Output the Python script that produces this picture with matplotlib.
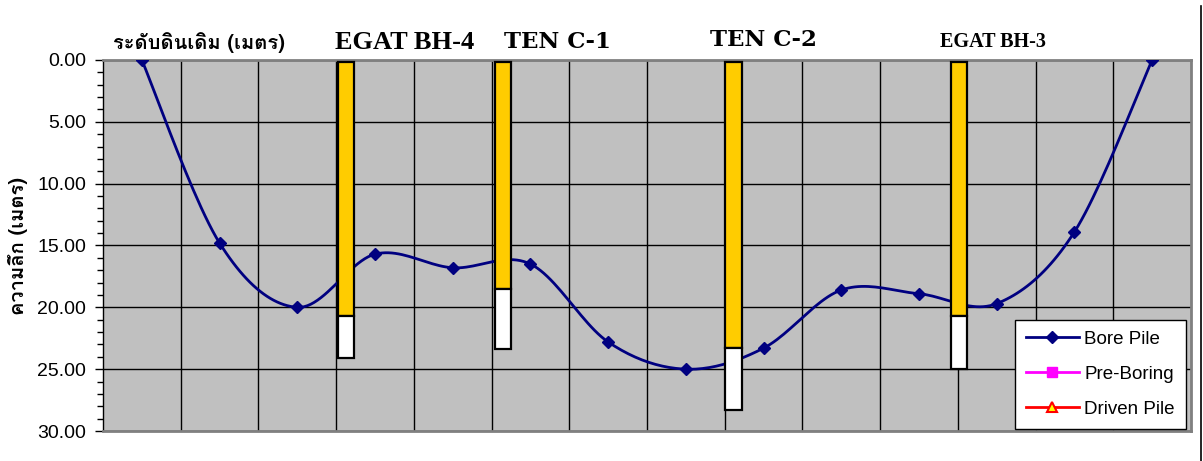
import numpy as np
import matplotlib
matplotlib.use("Agg")
import matplotlib.pyplot as plt
from matplotlib.lines import Line2D
from matplotlib.ticker import MultipleLocator, FormatStrFormatter

plt.rcParams['font.family'] = ['Liberation Sans', 'DejaVu Sans']
THAI = ['Loma', 'Noto Sans Thai Looped', 'DejaVu Sans']

# ความลึกของชั้นดินตามแนวสำรวจ (เมตร)
bore_depth = [0.0, 14.8, 20.0, 15.7, 16.8, 16.5, 22.8, 25.0, 23.3, 18.6, 18.9, 19.7, 13.9, 0.0]

# เสาเข็มแต่ละจุดเจาะ
pile_names = ['EGAT BH-4', 'TEN C-1', 'TEN C-2', 'EGAT BH-3']
pile_pos = [2.52, 4.54, 7.51, 10.41]
pile_top = [0.15, 0.15, 0.15, 0.15]
pile_bore = [20.7, 18.5, 23.3, 20.7]
pile_tip = [24.1, 23.4, 28.3, 25.0]

legend_labels = ['Bore Pile', 'Pre-Boring', 'Driven Pile']


def smooth(xs, ys, n=24):
    # เส้นโค้งแบบ Catmull-Rom (Bezier) ผ่านทุกจุด
    p = np.column_stack([xs, ys]).astype(float)
    p = np.vstack([p[0], p, p[-1]])
    out = []
    for i in range(1, len(p) - 2):
        p0, p1, p2, p3 = p[i - 1], p[i], p[i + 1], p[i + 2]
        b1 = p1 + (p2 - p0) / 6.0
        b2 = p2 - (p3 - p1) / 6.0
        t = np.linspace(0, 1, n)[:, None]
        seg = ((1 - t) ** 3) * p1 + 3 * ((1 - t) ** 2) * t * b1 + 3 * (1 - t) * t ** 2 * b2 + t ** 3 * p2
        out.append(seg if i == 1 else seg[1:])
    s = np.vstack(out)
    return s[:, 0], s[:, 1]


fig = plt.figure(figsize=(12.03, 4.61), dpi=100)
ax = fig.add_axes([103 / 1203, 1 - 431 / 461, 1088 / 1203, 371 / 461])
ax.set_facecolor('#C0C0C0')

xs = np.arange(len(bore_depth))
sx, sy = smooth(xs, bore_depth)
ax.plot(sx, sy, color='#000080', lw=2, zorder=3)
ax.plot(xs, bore_depth, ls='none', marker='D', ms=6.5, color='#000080', zorder=4)

# แท่งเสาเข็ม: ส่วนเจาะ (เหลือง) และส่วนปลาย (ขาว)
w = 0.21
bore_len = [b - t for b, t in zip(pile_bore, pile_top)]
tip_len = [t - b for t, b in zip(pile_tip, pile_bore)]
ax.bar(pile_pos, bore_len, bottom=pile_top, width=w, align='edge',
       color='#FFCC00', edgecolor='black', lw=1.6, zorder=5)
ax.bar(pile_pos, tip_len, bottom=pile_bore, width=w, align='edge',
       color='white', edgecolor='black', lw=1.6, zorder=5)

ax.set_xlim(-0.5, len(bore_depth) - 0.5)
ax.set_ylim(30, 0)
ax.set_xticks(np.arange(0.5, len(bore_depth) - 0.5, 1.0))
ax.tick_params(axis='x', length=0, labelbottom=False)
ax.yaxis.set_major_locator(MultipleLocator(5))
ax.yaxis.set_minor_locator(MultipleLocator(1))
ax.yaxis.set_major_formatter(FormatStrFormatter('%.2f'))
ax.tick_params(axis='y', which='major', length=6, width=1, labelsize=14, pad=6)
ax.tick_params(axis='y', which='minor', length=4, width=1)
ax.grid(True, which='major', color='black', lw=1, zorder=1)
ax.set_axisbelow(True)

for side in ['top', 'right', 'bottom']:
    ax.spines[side].set_color('#808080')
    ax.spines[side].set_linewidth(2)
ax.spines['left'].set_color('black')
ax.spines['left'].set_linewidth(1)

ax.set_ylabel('ความลึก (เมตร)', family=THAI, fontweight='bold', fontsize=14.5, labelpad=7)

# ป้ายชื่อด้านบน
tr = ax.get_xaxis_transform()
ax.text(-0.37, 1.046, 'ระดับดินเดิม (เมตร)', transform=tr, family=THAI,
        fontweight='bold', fontsize=14.5, ha='left', va='center')
ax.text(3.38, 1.048, pile_names[0], transform=tr, family=['Liberation Serif'],
        fontweight='bold', fontsize=19, ha='center', va='center')
ax.text(5.35, 1.048, pile_names[1], transform=tr, family=['DejaVu Serif'],
        fontweight='bold', fontsize=16.5, ha='center', va='center')
ax.text(8.0, 1.054, pile_names[2], transform=tr, family=['DejaVu Serif'],
        fontweight='bold', fontsize=16.5, ha='center', va='center')
ax.text(10.95, 1.048, pile_names[3], transform=tr, family=['Liberation Serif'],
        fontweight='bold', fontsize=14.5, ha='center', va='center')

handles = [
    Line2D([], [], color='#000080', lw=2, marker='D', ms=6.5),
    Line2D([], [], color='#FF00FF', lw=2, marker='s', ms=7.5),
    Line2D([], [], color='red', lw=2, marker='^', ms=7.5, markerfacecolor='yellow',
           markeredgecolor='red', markeredgewidth=1.5),
]
leg = ax.legend(handles, legend_labels, loc='lower right', bbox_to_anchor=(0.9954, 0.005),
                borderaxespad=0, fontsize=13.5, frameon=True, fancybox=False,
                labelspacing=0.95, handlelength=2.8, handletextpad=0.3,
                borderpad=0.6, framealpha=1)
leg.get_frame().set_edgecolor('black')
leg.get_frame().set_linewidth(1)
leg.set_zorder(10)

fig.add_artist(Line2D([1200.5 / 1203, 1200.5 / 1203], [0, 1 - 6 / 461], color='black', lw=1.2))

fig.savefig('out.png', dpi=100)
